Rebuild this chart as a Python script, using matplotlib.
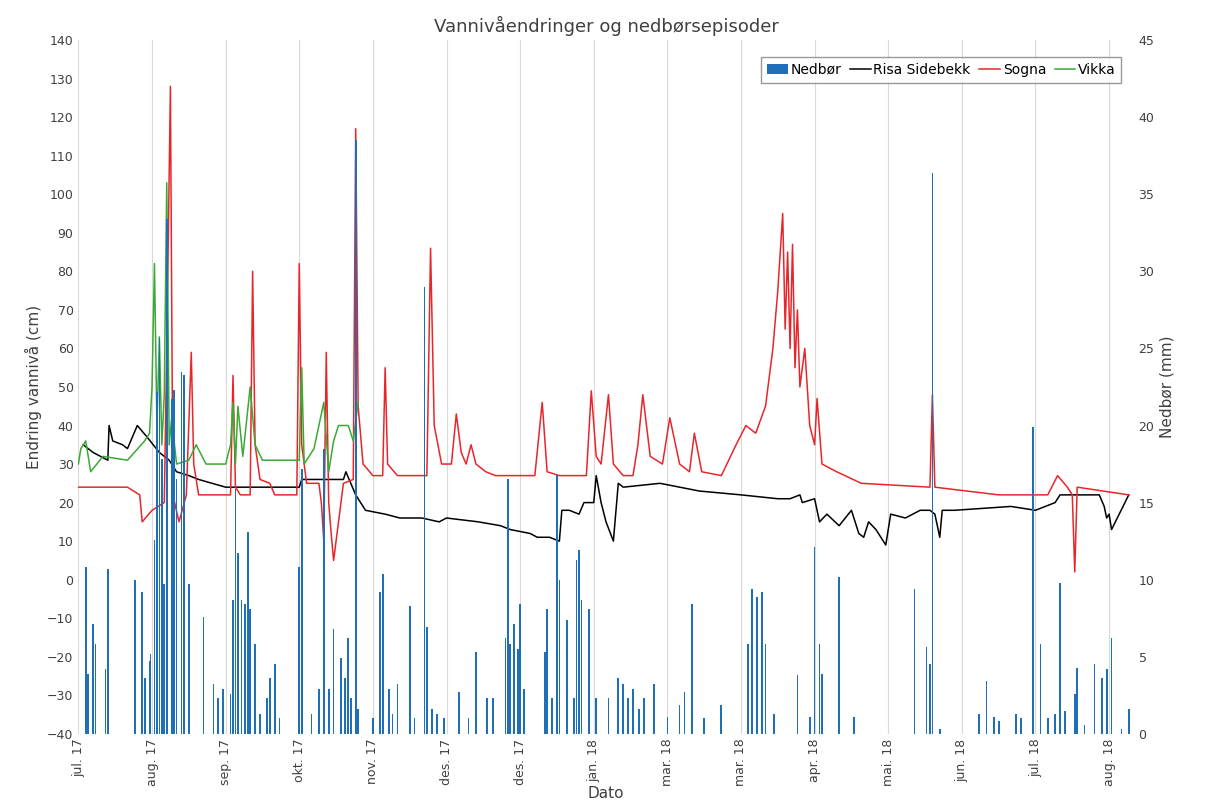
import matplotlib.pyplot as plt

# x in days since 1 Jul 2017 (approx.)
tick_labels = ["jul. 17", "aug. 17", "sep. 17", "okt. 17", "nov. 17", "des. 17", "des. 17",
               "jan. 18", "mar. 18", "mar. 18", "apr. 18", "mai. 18", "jun. 18", "jul. 18", "aug. 18"]

rain_day = [3, 4, 6, 7, 11, 12, 23, 26, 27, 29, 29.4, 31, 32, 33, 34, 35, 36, 38, 39, 40, 42, 43, 45,
            51, 55, 57, 59, 62, 63, 64, 65, 66.5, 68, 69, 70, 72, 74, 77, 78, 80, 82, 90, 91, 95, 98,
            100, 102, 104, 107, 108.5, 110, 111, 113, 114, 120, 123, 124, 126.5, 128, 130, 135, 137,
            141, 142, 144, 146, 149, 155, 159, 162, 166.5, 169, 174, 175, 176, 177.5, 179, 180, 181.5,
            190, 191, 193, 195, 196, 199, 202, 203, 204, 205, 208, 211, 216, 220, 222, 224, 226, 228.5,
            230.5, 234.5, 240, 245, 247, 250, 255, 262, 273, 274.5, 276.6, 278.6, 280, 283.5, 293, 298,
            300, 302, 303, 310, 316, 340.7, 345.6, 347, 348, 351, 367, 370, 373, 375, 382, 384, 389,
            392, 395, 398, 400, 402, 406, 407, 410, 414, 417, 419, 421, 425, 428]
rain_mm = [10.8, 3.9, 7.1, 5.8, 4.2, 10.7, 10.0, 9.2, 3.6, 4.7, 5.2, 12.6, 22.2, 25.7, 17.8, 9.7, 33.4,
           21.7, 22.3, 16.5, 23.5, 23.3, 9.7, 7.6, 3.2, 2.3, 2.9, 2.6, 8.7, 15.9, 11.7, 8.7, 8.4, 13.1,
           8.1, 5.8, 1.3, 2.3, 3.6, 4.5, 1.0, 10.8, 17.2, 1.3, 2.9, 18.5, 2.9, 6.8, 4.9, 3.6, 6.2, 2.3,
           38.5, 1.6, 1.0, 9.2, 10.4, 2.9, 1.3, 3.2, 8.3, 1.0, 29.0, 6.9, 1.6, 1.3, 1.0, 2.7, 1.0, 5.3,
           2.3, 2.3, 6.2, 16.5, 5.8, 7.1, 5.5, 8.4, 2.9, 5.3, 8.1, 2.3, 16.8, 10.0, 7.4, 2.3, 11.3,
           11.9, 8.7, 8.1, 2.3, 2.3, 3.6, 3.2, 2.3, 2.9, 1.6, 2.3, 3.2, 1.1, 1.9, 2.7, 8.4, 1.0, 1.9,
           5.8, 9.4, 8.9, 9.2, 5.8, 1.3, 3.8, 1.1, 12.1, 5.8, 3.9, 10.2, 1.1, 9.4, 5.6, 4.5, 36.4, 0.3,
           1.3, 3.4, 1.1, 0.8, 1.3, 1.0, 19.9, 5.8, 1.0, 1.3, 9.8, 1.5, 2.6, 4.3, 0.6, 4.5, 3.6, 4.2,
           6.2, 0.3, 1.6]

risa_day = [2, 6, 12, 12.5, 14, 18, 20, 24, 28, 33, 37, 40, 45, 49, 60, 90, 91, 108, 109, 113, 117, 125,
            131, 140, 147, 150, 163, 172, 176, 184, 187, 192, 196, 197, 200, 204, 206, 210, 211, 213, 215,
            218, 220, 222, 237, 253, 270, 285, 290, 294, 295, 300, 302, 305, 310, 315, 318, 320, 322,
            325, 329, 331, 337, 343, 347, 349, 351, 352, 357, 380, 390, 398, 400, 406, 416, 418, 419, 420,
            421, 428]
risa_val = [35, 33, 31, 40, 36, 35, 34, 40, 37, 33, 31, 28, 27, 26, 24, 24, 26, 26, 28, 22, 18, 17, 16,
            16, 15, 16, 15, 14, 13, 12, 11, 11, 10, 18, 18, 17, 20, 20, 27, 20, 15, 10, 25, 24, 25, 23, 22,
            21, 21, 22, 20, 21, 15, 17, 14, 18, 12, 11, 15, 13, 9, 17, 16, 18, 18, 17, 11, 18, 18, 19, 18,
            20, 22, 22, 22, 19, 16, 17, 13, 22]

sogna_day = [0, 20, 25, 26, 30, 35, 36, 37.5, 38.5, 41, 44, 46, 47, 49, 62, 63, 64, 66, 70, 71, 72, 74, 78,
             80, 89, 90, 91, 93, 98, 99, 100, 101, 102, 103, 104, 106, 108, 112, 113, 114, 116, 120, 124,
             125, 126, 130, 142, 143.5, 145, 148, 152, 154, 156, 158, 160, 162, 166, 170, 186, 189, 191,
             196, 207, 209, 211, 213, 216, 218, 222, 226, 228, 230, 233, 238, 241, 245, 249, 251, 254,
             262, 268, 272, 276, 280, 283, 285, 287, 288, 289, 290, 291, 292, 293, 294, 296, 298, 300,
             301, 303, 309, 319, 347, 348, 349, 375, 395, 399, 403, 405, 406, 407, 428]
sogna_val = [24, 24, 22, 15, 18, 20, 60, 128, 22, 15, 22, 59, 30, 22, 22, 53, 24, 22, 22, 80, 35, 26, 25,
             22, 22, 82, 35, 25, 25, 20, 10, 59, 20, 12, 5, 15, 25, 26, 117, 45, 30, 27, 27, 55, 30, 27,
             27, 86, 40, 30, 30, 43, 33, 30, 35, 30, 28, 27, 27, 46, 28, 27, 27, 49, 32, 30, 48, 30, 27,
             27, 35, 48, 32, 30, 42, 30, 28, 38, 28, 27, 35, 40, 38, 45, 60, 75, 95, 65, 85, 60, 87, 55,
             70, 50, 60, 40, 35, 47, 30, 28, 25, 24, 48, 24, 22, 22, 27, 24, 22, 2, 24, 22]

vikka_day = [0, 1, 3, 5, 10, 20, 27, 29, 30, 31, 32, 33, 34, 35, 36, 37, 38, 40, 45, 48, 52, 60, 62, 63,
             64, 65, 67, 70, 72, 75, 90, 91, 92, 96, 100, 102, 104, 106, 110, 112, 114]
vikka_val = [30, 34, 36, 28, 32, 31, 36, 38, 50, 82, 40, 63, 35, 48, 103, 35, 42, 30, 31, 35, 30, 30, 35,
             46, 30, 45, 32, 50, 35, 31, 31, 55, 30, 34, 46, 28, 36, 40, 40, 36, 46]

fig, ax = plt.subplots(figsize=(12.06, 8.02), dpi=100)
ax2 = ax.twinx()

ax.plot(risa_day, risa_val, color="black", lw=1.1, label="Risa Sidebekk")
ax.plot(sogna_day, sogna_val, color="#e8262a", lw=1.1, label="Sogna")
ax.plot(vikka_day, vikka_val, color="#3aaa35", lw=1.1, label="Vikka")
bars = ax2.bar(rain_day, rain_mm, width=0.7, color="#1f6fb8", label="Nedbør")

ax.set_xlim(0, 430)
ax.set_ylim(-40, 140)
ax.set_yticks(range(-40, 141, 10))
ax2.set_ylim(0, 45)
ax2.set_yticks(range(0, 46, 5))
ax.set_xticks([i * 30 for i in range(len(tick_labels))])
ax.set_xticklabels(tick_labels, rotation=90)
ax.grid(axis="x", color="#d9d9d9", lw=0.8)
ax.set_axisbelow(True)
for a in (ax, ax2):
    for s in a.spines.values():
        s.set_visible(False)
    a.tick_params(length=0, labelsize=9, colors="#404040")

ax.set_title("Vannivåendringer og nedbørsepisoder", fontsize=13, color="#404040")
ax.set_xlabel("Dato", fontsize=11, color="#404040", labelpad=0)
ax.set_ylabel("Endring vannivå (cm)", fontsize=11, color="#404040")
ax2.set_ylabel("Nedbør (mm)", fontsize=11, color="#404040")

h1, l1 = ax.get_legend_handles_labels()
ax2.legend([bars] + h1, ["Nedbør"] + l1, loc="upper right", ncol=4, fontsize=10,
           fancybox=False, edgecolor="#808080", handlelength=1.5, columnspacing=0.6,
           handletextpad=0.2, bbox_to_anchor=(0.995, 0.985))

plt.subplots_adjust(left=0.065, right=0.94, top=0.95, bottom=0.085)
plt.savefig("out.png")
